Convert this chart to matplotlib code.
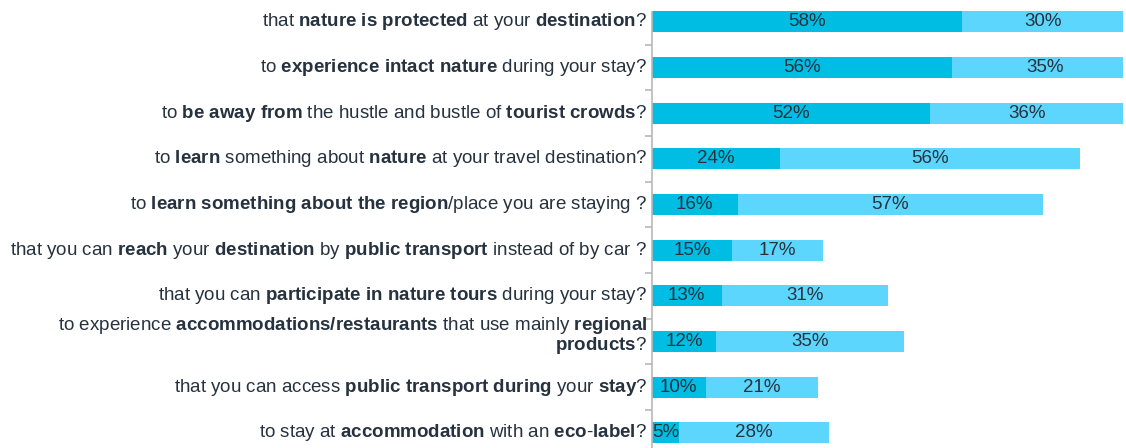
import re
import matplotlib
matplotlib.use('Agg')
import matplotlib.pyplot as plt

plt.rcParams['mathtext.fontset'] = 'custom'
plt.rcParams['mathtext.rm'] = 'Liberation Sans'
plt.rcParams['mathtext.bf'] = 'Liberation Sans:bold'
plt.rcParams['mathtext.it'] = 'Liberation Sans:italic'

labels = [
    "that **nature is protected** at your **destination**?",
    "to **experience intact nature** during your stay?",
    "to **be away from** the hustle and bustle of **tourist crowds**?",
    "to **learn** something about **nature** at your travel destination?",
    "to **learn something about the region**/place you are staying ?",
    "that you can **reach** your **destination** by **public transport** instead of by car ?",
    "that you can **participate in nature tours** during your stay?",
    "to experience **accommodations/restaurants** that use mainly **regional**\n**products**?",
    "that you can access **public transport during** your **stay**?",
    "to stay at **accommodation** with an **eco-label**?",
]
very = [58, 56, 52, 24, 16, 15, 13, 12, 10, 5]
rather = [30, 35, 36, 56, 57, 17, 31, 35, 21, 28]

dark = '#00bde3'
light = '#5dd6fd'
txt = '#26323f'
FS = 13.5
FAM = 'Liberation Sans'


def bold_word(w):
    # hyphen kept outside the math so it is not turned into a minus
    return '-'.join(r'$\mathbf{' + p + '}$' for p in w.split('-') if p)


def to_mathtext(line):
    out = []
    for i, part in enumerate(line.split('**')):
        if i % 2:
            out.append(' '.join(bold_word(w) for w in part.split(' ')))
        else:
            out.append(part)
    return ''.join(out)


fig = plt.figure(figsize=(11.26, 4.48), dpi=100)
ax = fig.add_axes([652/1126, 0, (1123-652)/1126, 1])
ypos = list(range(len(labels)))
ax.barh(ypos, very, height=0.46, color=dark)
ax.barh(ypos, rather, left=very, height=0.46, color=light)
ax.set_xlim(0, 88)
ax.set_ylim(9.33, -0.48)

for y, a, b in zip(ypos, very, rather):
    ax.text(a/2, y, f"{a}%", ha='center', va='center', fontsize=FS,
            color=txt, family=FAM)
    ax.text(a + b/2, y, f"{b}%", ha='center', va='center', fontsize=FS,
            color=txt, family=FAM)

for s in ['top', 'right', 'bottom']:
    ax.spines[s].set_visible(False)
ax.spines['left'].set_color('#b8b8b8')
ax.spines['left'].set_linewidth(1.2)
ax.spines['left'].set_bounds(9.33, -0.22)
ax.set_xticks([])
ax.set_yticks([])
ax.set_yticks([i + 0.5 for i in range(9)], minor=True)
ax.tick_params(axis='y', which='minor', length=5, width=1.2, color='#b8b8b8')

# category labels with bold words, right aligned next to the axis
x_right = 647
for y, lab in zip(ypos, labels):
    lines = lab.split('\n')
    _, yc = ax.transData.transform((0, y))
    offs = [0] if len(lines) == 1 else [16, -4]
    for line, off in zip(lines, offs):
        fig.text(x_right / 1126, (yc + off) / 448, to_mathtext(line),
                 fontsize=FS, family=FAM, color=txt, ha='right', va='center')

fig.savefig('out.png', dpi=100)
